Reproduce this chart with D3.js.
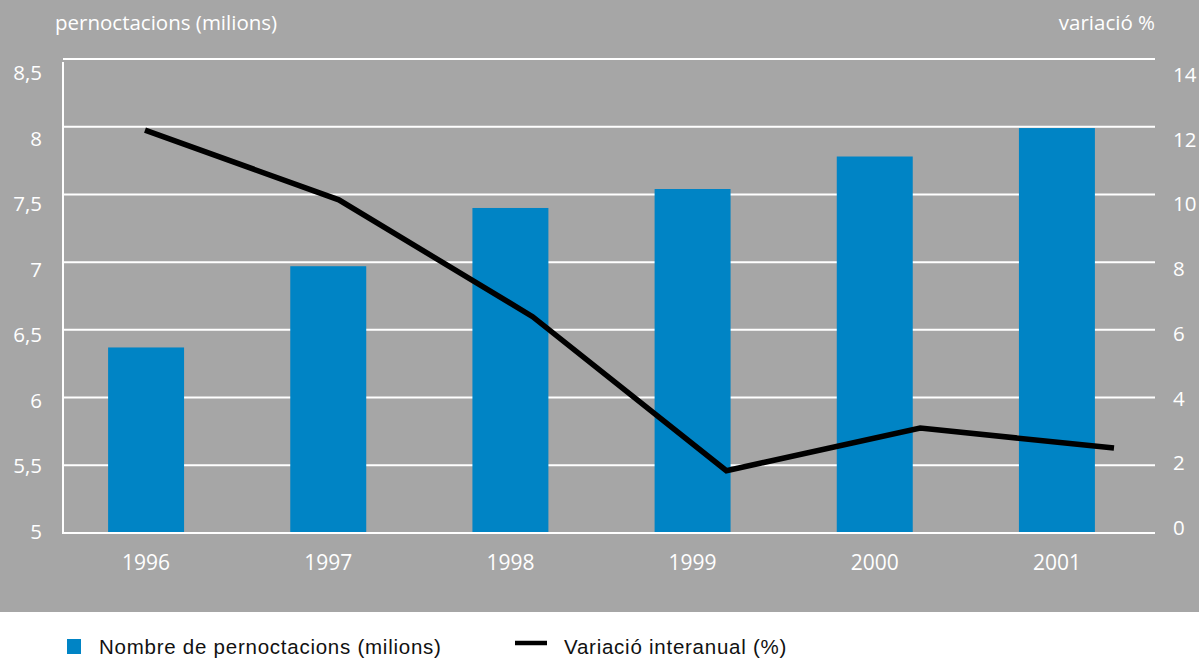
<!DOCTYPE html>
<html>
  <head>
    <meta charset="utf-8">
    <title>Pernoctacions</title>
    <script src="https://cdn.jsdelivr.net/npm/d3@7"></script>
    <style>
    html, body {
        margin: 0;
        padding: 0;
        background: #ffffff;
    }
    #vis text {
        font-family: 'Open Sans', sans-serif;
        fill: #ffffff;
        font-size: 20.5px;
    }
    #vis text.legend {
        font-family: 'Liberation Sans', Arial, sans-serif;
        fill: #111111;
        font-size: 20.5px;
        letter-spacing: 0.75px;
    }
    </style>
  </head>

  <body>
    <div id='vis'></div>
    <script>

      var years = ['1996', '1997', '1998', '1999', '2000', '2001'];
      var nights = [6.37, 6.97, 7.40, 7.54, 7.78, 7.99];   // milions
      var change = [11.9, 9.84, 6.39, 1.84, 3.10, 2.51];   // variació %
      var leftTicks = [5, 5.5, 6, 6.5, 7, 7.5, 8, 8.5];
      var rightTicks = [0, 2, 4, 6, 8, 10, 12, 14];

      var width = 1199;
      var height = 659;

      var svg = d3.select('#vis').append('svg')
          .attr('width', width)
          .attr('height', height);

      svg.append('rect')
          .attr('width', width)
          .attr('height', 612)
          .attr('fill', '#a6a6a6');

      var y = d3.scaleLinear().domain([5, 8.5]).range([533, 59]);
      var y2 = d3.scaleLinear().domain([0, 14]).range([533, 59]);
      // tick labels sit on a slightly tighter spacing than the grid
      var yLab = d3.scaleLinear().domain([5, 8.5]).range([532, 73]);
      var y2Lab = d3.scaleLinear().domain([0, 14]).range([528, 75]);

      var x = d3.scaleBand().domain(years).range([55, 1148])
          .paddingInner(0.583).paddingOuter(0.2915);
      var xLine = d3.scaleLinear().domain([0, years.length - 1]).range([145, 1114]);

      // grid
      svg.selectAll('line.grid')
          .data(leftTicks)
          .enter()
          .append('line')
          .attr('class', 'grid')
          .attr('x1', 63)
          .attr('x2', 1155)
          .attr('y1', function(d) { return y(d); })
          .attr('y2', function(d) { return y(d); })
          .attr('stroke', '#ffffff')
          .attr('stroke-width', 2);

      svg.append('line')
          .attr('x1', 63).attr('x2', 63)
          .attr('y1', 62).attr('y2', y(5) + 1)
          .attr('stroke', '#ffffff')
          .attr('stroke-width', 2);

      // bars
      svg.selectAll('rect.bar')
          .data(nights)
          .enter()
          .append('rect')
          .attr('class', 'bar')
          .attr('x', function(d, i) { return x(years[i]); })
          .attr('width', x.bandwidth())
          .attr('y', function(d) { return y(d); })
          .attr('height', function(d) { return y(5) - 1 - y(d); })
          .attr('fill', '#0084c5');

      // line
      var line = d3.line()
          .x(function(d, i) { return xLine(i); })
          .y(function(d) { return y2(d); });

      svg.append('path')
          .datum(change)
          .attr('d', line)
          .attr('fill', 'none')
          .attr('stroke', '#000000')
          .attr('stroke-width', 5.5);

      // axes
      var fmt = function(d) { return String(d).replace('.', ','); };

      var gl = svg.append('g')
          .attr('transform', 'translate(42,0)')
          .call(d3.axisLeft(yLab).tickValues(leftTicks).tickFormat(fmt).tickSize(0).tickPadding(0));
      var gr = svg.append('g')
          .attr('transform', 'translate(1173,0)')
          .call(d3.axisRight(y2Lab).tickValues(rightTicks).tickSize(0).tickPadding(0));
      var gx = svg.append('g')
          .attr('transform', 'translate(0,563)')
          .call(d3.axisBottom(x).tickSize(0).tickPadding(0));

      [gl, gr, gx].forEach(function(g) {
        g.select('.domain').remove();
        g.selectAll('text').attr('font-size', null).attr('font-family', null);
      });
      gx.selectAll('text').attr('dy', '0.35em').style('font-size', '21px');

      svg.append('text')
          .attr('x', 55).attr('y', 30)
          .text('pernoctacions (milions)');
      svg.append('text')
          .attr('x', 1155).attr('y', 30)
          .attr('text-anchor', 'end')
          .text('variació %');

      // legend
      svg.append('rect')
          .attr('x', 67).attr('y', 639)
          .attr('width', 14).attr('height', 15)
          .attr('fill', '#0084c5');
      svg.append('text')
          .attr('class', 'legend')
          .attr('x', 99).attr('y', 654)
          .text('Nombre de pernoctacions (milions)');
      svg.append('line')
          .attr('x1', 515).attr('x2', 547)
          .attr('y1', 643).attr('y2', 643)
          .attr('stroke', '#000000')
          .attr('stroke-width', 4.5);
      svg.append('text')
          .attr('class', 'legend')
          .attr('x', 564).attr('y', 654)
          .text('Variació interanual (%)');

    </script>
  </body>
</html>
